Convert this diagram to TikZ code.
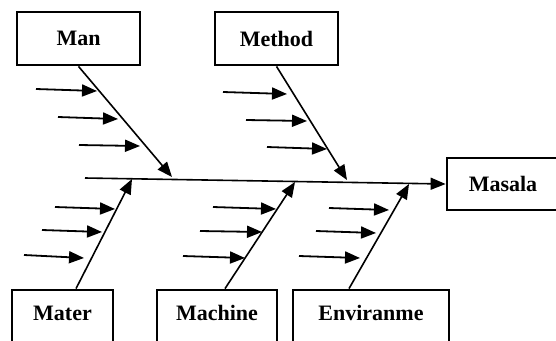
\documentclass[tikz,border=0pt]{standalone}
\usepackage{fontspec}
\setmainfont{Liberation Serif}
\usetikzlibrary{arrows.meta,calc}
\begin{document}
\begin{tikzpicture}[x=1bp,y=-1bp,
  box/.style={draw, line width=2.8bp, inner sep=0pt},
  txt/.style={font=\fontsize{22bp}{26bp}\selectfont\bfseries, inner sep=0pt},
  bone/.style={line width=1.6bp, -{Triangle[length=15bp,width=12bp]}},
  rib/.style={line width=1.8bp, -{Triangle[length=15bp,width=12bp]}}]
\clip (0,0) rectangle (556,340);
\fill[white] (0,0) rectangle (556,340);
% top boxes
\node[box, txt, minimum width=123bp, minimum height=53bp] (man) at (78.5,38.5) {Man};
\node[box, txt, minimum width=123bp, minimum height=53bp] (method) at (276.5,38.5) {Method};
\node[box, txt, minimum width=115bp, minimum height=52bp] (masala) at (504.5,184) {\hspace*{-3bp}Masala};
% bottom boxes (cut by the lower edge)
\node[box, minimum width=101bp, minimum height=55bp] (materbox) at (62.5,317.5) {};
\node[txt] (mater) at (62.5,313) {Mater};
\node[box, minimum width=120bp, minimum height=55bp] (machinebox) at (217,317.5) {};
\node[txt] (machine) at (217,313) {Machine};
\node[box, minimum width=156bp, minimum height=55bp] (envbox) at (371,317.5) {};
\node[txt] (env) at (371,313) {Enviranme};
% spine
\coordinate (spineL) at (85,178);
\draw[bone] (spineL) -- (masala.west);
% branch tips
\coordinate (tman) at (172,177);
\coordinate (tmethod) at (347,180);
\coordinate (tmater) at (132,179);
\coordinate (tmachine) at (295,182);
\coordinate (tenv) at (409,184);
\draw[bone] (man.south) -- (tman);
\draw[bone] (method.south) -- (tmethod);
\draw[bone] ([xshift=13.5bp]materbox.north) -- (tmater);
\draw[bone] ([xshift=8bp]machinebox.north) -- (tmachine);
\draw[bone] ([xshift=-22bp]envbox.north) -- (tenv);
% small cause arrows
\foreach \n/\ax/\ay/\bx/\by in {
  ma1/36/89/97/91, ma2/58/117/118/119, ma3/79/145/140/146,
  me1/223/92/287/94, me2/246/120/307/121, me3/267/147/327/149,
  mt1/55/207/115/209, mt2/42/230/102/232, mt3/24/255/84/258,
  mc1/213/207/276/209, mc2/200/231/262/232, mc3/183/256/245/258,
  en1/329/208/389/210, en2/316/231/376/233, en3/299/256/360/258}{
  \coordinate (\n a) at (\ax,\ay);
  \coordinate (\n b) at (\bx,\by);
  \draw[rib] (\n a) -- (\n b);
}
\end{tikzpicture}
\end{document}
